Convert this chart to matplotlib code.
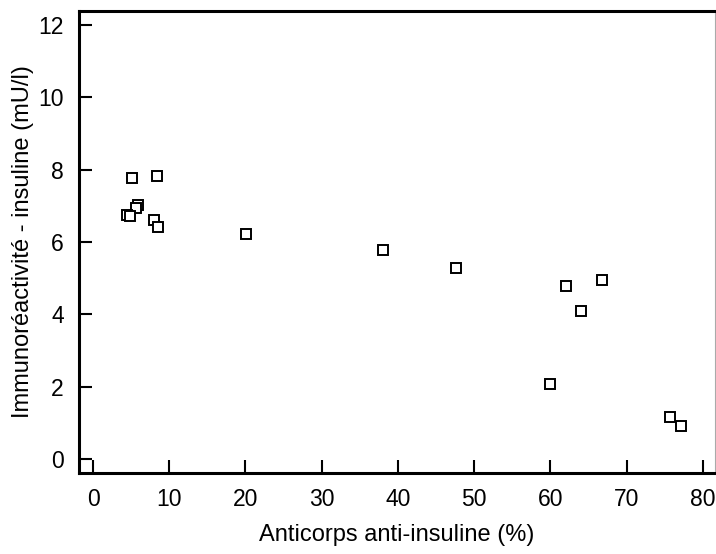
import matplotlib.pyplot as plt

plt.rcParams['font.family'] = ['Liberation Sans', 'DejaVu Sans']

# anti-insulin antibodies (%) vs. insulin immunoreactivity (mU/l)
anticorps = [5.1, 8.4, 5.9, 5.6, 4.4, 4.9, 8.0, 8.5, 20.1, 38.1, 47.6,
             62.0, 66.8, 64.0, 60.0, 75.7, 77.2]
immuno = [7.78, 7.83, 7.02, 6.94, 6.76, 6.71, 6.62, 6.41, 6.21, 5.77, 5.29,
          4.79, 4.96, 4.09, 2.06, 1.17, 0.91]
xticks = [0, 10, 20, 30, 40, 50, 60, 70, 80]
yticks = [0, 2, 4, 6, 8, 10, 12]

fig = plt.figure(figsize=(7.16, 5.54), dpi=100)
ax = fig.add_axes([0.1103, 0.1462, 0.8883, 0.8339])

ax.plot(anticorps, immuno, linestyle='none', marker='s', markersize=7,
        markerfacecolor='white', markeredgecolor='black', markeredgewidth=1.4)

ax.set_xlim(-1.84, 81.6)
ax.set_ylim(-0.39, 12.39)
ax.set_xticks(xticks)
ax.set_yticks(yticks)
ax.tick_params(direction='in', length=9.5, width=1.5, labelsize=16.5, pad=11)

for side in ['left', 'bottom', 'top']:
    ax.spines[side].set_linewidth(2.2)
ax.spines['right'].set_linewidth(0.8)
ax.spines['right'].set_color('#aaaaaa')

ax.set_xlabel('Anticorps anti-insuline (%)', fontsize=17, labelpad=9)
ax.set_ylabel('Immunoréactivité - insuline (mU/l)', fontsize=17, labelpad=3)

fig.savefig('out.png', dpi=100)
